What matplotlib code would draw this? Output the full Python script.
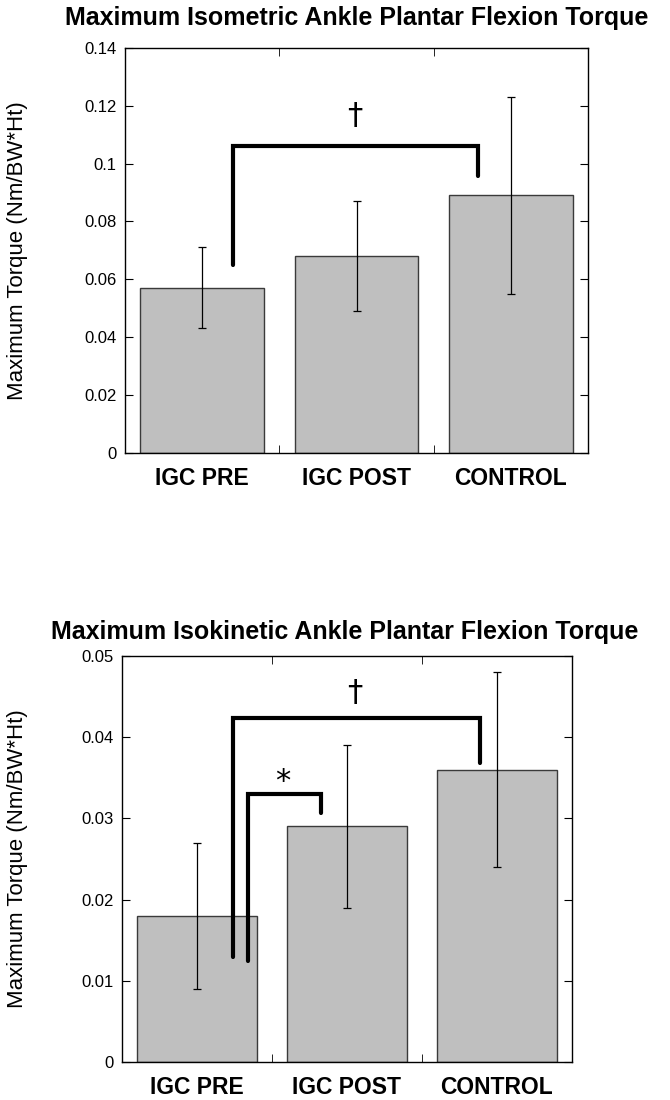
import numpy as np
import matplotlib
matplotlib.use('Agg')
import matplotlib.pyplot as plt

plt.rcParams['font.family'] = ['Liberation Sans', 'DejaVu Sans']

# Данные
categories = ['IGC PRE', 'IGC POST', 'CONTROL']

iso_mean = [0.057, 0.068, 0.089]
iso_sd = [0.014, 0.019, 0.034]

kin_mean = [0.018, 0.029, 0.036]
kin_sd = [0.009, 0.010, 0.012]

# Скобки значимости (x, y)
iso_brackets = [([0.2, 0.2, 1.79, 1.79], [0.065, 0.106, 0.106, 0.0957])]
iso_marks = [(0.99, 0.1166, '\u2020')]

kin_brackets = [([0.24, 0.24, 1.89, 1.89], [0.0130, 0.0424, 0.0424, 0.0368]),
                ([0.34, 0.34, 0.83, 0.83], [0.0125, 0.0330, 0.0330, 0.0306])]
kin_marks = [(1.05, 0.0455, '\u2020'), (0.57, 0.0345, '*')]


def draw(ax, means, sds, ymax, ystep, fmt, brackets, marks):
    x = np.arange(len(categories))
    ax.bar(x, means, width=0.8, color='#bfbfbf', edgecolor='#3a3a3a', linewidth=1, zorder=2)
    ax.errorbar(x, means, yerr=sds, fmt='none', ecolor='black', elinewidth=0.9,
                capsize=3, capthick=0.9, zorder=3)
    for bx, by in brackets:
        ax.plot(bx, by, color='black', linewidth=3, solid_capstyle='round',
                solid_joinstyle='miter', zorder=4)
    for mx, my, m in marks:
        ax.text(mx, my, m, ha='center', va='center', fontsize=22,
                family=['DejaVu Sans'], zorder=5)

    ax.set_xlim(-0.5, 2.5)
    ax.set_ylim(0, ymax)
    yt = np.arange(0, ymax + ystep / 2, ystep)
    ax.set_yticks(yt)
    ax.set_yticklabels([fmt(v) for v in yt], fontsize=12)
    ax.set_xticks(x)
    ax.set_xticklabels(categories, fontsize=16.5, fontweight='bold')
    ax.set_xticks([0.5, 1.5], minor=True)
    ax.tick_params(axis='x', which='major', length=0, pad=10)
    ax.tick_params(axis='x', which='minor', direction='in', length=6, top=True, bottom=True)
    ax.tick_params(axis='y', direction='in', length=6, left=True, right=True, pad=6)
    for s in ax.spines.values():
        s.set_linewidth(1)
    ax.set_ylabel('Maximum Torque (Nm/BW*Ht)', fontsize=16)


def fmt_tick(v):
    if abs(v) < 1e-12:
        return '0'
    return ('%.2f' % v).rstrip('0')


fig = plt.figure(figsize=(6.7, 11), dpi=100)
ax1 = fig.add_axes([0.1866, 0.5885, 0.691, 0.368])
ax2 = fig.add_axes([0.182, 0.0343, 0.6716, 0.3696])

draw(ax1, iso_mean, iso_sd, 0.14, 0.02, fmt_tick, iso_brackets, iso_marks)
draw(ax2, kin_mean, kin_sd, 0.05, 0.01, fmt_tick, kin_brackets, kin_marks)

ax1.yaxis.set_label_coords(-(125 - 28) / 463, 0.5)
ax2.yaxis.set_label_coords(-(122 - 28) / 450, 0.5)

fig.text(0.532, 1 - 18 / 1100, 'Maximum Isometric Ankle Plantar Flexion Torque',
         ha='center', va='center', fontsize=18, fontweight='bold')
fig.text(0.515, 1 - 632 / 1100, 'Maximum Isokinetic Ankle Plantar Flexion Torque',
         ha='center', va='center', fontsize=18, fontweight='bold')

fig.savefig('out.png', dpi=100)
